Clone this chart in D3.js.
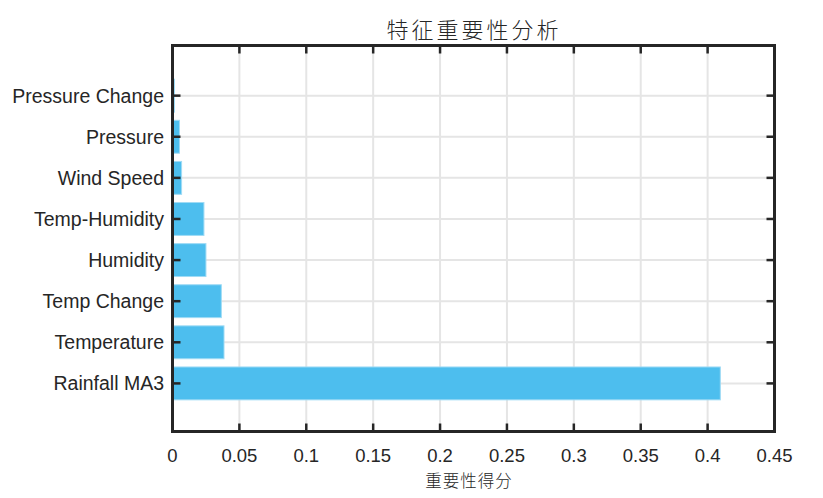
<!DOCTYPE html>
<html>
<head>
<meta charset="utf-8">
<script src="https://cdn.jsdelivr.net/npm/d3@7"></script>
<style>
  body { margin: 0; background: #fff; }
  text { font-family: "Liberation Sans", Arial, sans-serif; fill: #262626; }
  .cjk { font-family: "Noto Sans CJK SC", sans-serif; font-weight: 300; }
</style>
</head>
<body>
<div id="container"></div>
<script>
// Feature names, bottom to top
const features = ["Rainfall MA3", "Temperature", "Temp Change", "Humidity",
    "Temp-Humidity", "Wind Speed", "Pressure", "Pressure Change"];
const scores = [0.4095, 0.0385, 0.0365, 0.0250, 0.0235, 0.0068, 0.0052, 0.0015];
const xTicks = [0, 0.05, 0.1, 0.15, 0.2, 0.25, 0.3, 0.35, 0.4, 0.45];
const chartTitle = "特征重要性分析";
const xTitle = "重要性得分";

const W = 823, H = 498;
const plot = { left: 172.5, right: 774.5, top: 45.5, bottom: 431.5 };
const ink = "#262626";

const svg = d3.select("#container")
    .append("svg")
    .attr("width", W)
    .attr("height", H);

svg.append("rect").attr("width", W).attr("height", H).attr("fill", "#fff");

// Scales
const x = d3.scaleLinear().domain([0, 0.45]).range([plot.left, plot.right]);
const y = d3.scaleLinear().domain([-0.17, 9.22]).range([plot.bottom, plot.top]);
const pos = features.map((f, i) => i + 1);

// Grid
svg.append("g")
    .selectAll("line")
    .data(xTicks.slice(1, -1))
    .enter()
    .append("line")
    .attr("x1", d => x(d)).attr("x2", d => x(d))
    .attr("y1", plot.top).attr("y2", plot.bottom)
    .attr("stroke", "#e5e5e5").attr("stroke-width", 2);

svg.append("g")
    .selectAll("line")
    .data(pos)
    .enter()
    .append("line")
    .attr("x1", plot.left).attr("x2", plot.right)
    .attr("y1", d => y(d)).attr("y2", d => y(d))
    .attr("stroke", "#e5e5e5").attr("stroke-width", 2);

// Bars
const bh = y(0) - y(0.8);
svg.append("g")
    .selectAll("rect")
    .data(scores)
    .enter()
    .append("rect")
    .attr("x", x(0))
    .attr("y", (d, i) => y(i + 1) - bh / 2)
    .attr("width", d => x(d) - x(0))
    .attr("height", bh)
    .attr("fill", "#4DBEEE")
    .attr("stroke", "#9fdbf5")
    .attr("stroke-width", 1);

// Ticks (inward) on all four sides
const tl = 8;
const ticks = svg.append("g").attr("stroke", ink).attr("stroke-width", 2.5);
xTicks.forEach(t => {
    ticks.append("line").attr("x1", x(t)).attr("x2", x(t)).attr("y1", plot.bottom).attr("y2", plot.bottom - tl);
    ticks.append("line").attr("x1", x(t)).attr("x2", x(t)).attr("y1", plot.top).attr("y2", plot.top + tl);
});
pos.forEach(p => {
    ticks.append("line").attr("x1", plot.left).attr("x2", plot.left + tl).attr("y1", y(p)).attr("y2", y(p));
    ticks.append("line").attr("x1", plot.right).attr("x2", plot.right - tl).attr("y1", y(p)).attr("y2", y(p));
});

// Box
svg.append("rect")
    .attr("x", plot.left).attr("y", plot.top)
    .attr("width", plot.right - plot.left).attr("height", plot.bottom - plot.top)
    .attr("fill", "none").attr("stroke", ink).attr("stroke-width", 3);

// Tick labels
svg.append("g")
    .selectAll("text")
    .data(xTicks)
    .enter()
    .append("text")
    .attr("x", d => x(d))
    .attr("y", 462)
    .attr("text-anchor", "middle")
    .attr("font-size", 18.5)
    .text(d => d3.format("")(d));

svg.append("g")
    .selectAll("text")
    .data(features)
    .enter()
    .append("text")
    .attr("x", 164)
    .attr("y", (d, i) => y(i + 1) + 7)
    .attr("text-anchor", "end")
    .attr("font-size", 19.5)
    .text(d => d);

// Titles
svg.append("text")
    .attr("class", "cjk")
    .attr("x", 474)
    .attr("y", 38)
    .attr("text-anchor", "middle")
    .attr("font-size", 22)
    .attr("letter-spacing", 3)
    .text(chartTitle);

svg.append("text")
    .attr("class", "cjk")
    .attr("x", 469)
    .attr("y", 487)
    .attr("text-anchor", "middle")
    .attr("font-size", 16.5)
    .attr("letter-spacing", 1)
    .text(xTitle);
</script>
</body>
</html>
